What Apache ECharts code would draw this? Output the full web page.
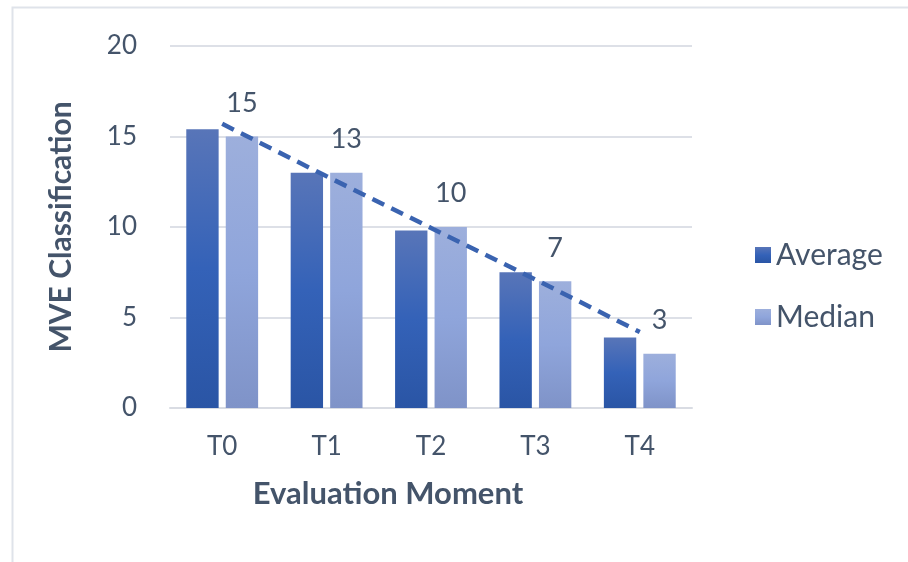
<!DOCTYPE html>
<html>
<head>
<meta charset="utf-8">
<script src="https://cdn.jsdelivr.net/npm/echarts@6/dist/echarts.min.js"></script>
<style>html,body{margin:0;padding:0;background:#fff}#c{width:908px;height:562px}</style>
</head>
<body>
<div id="c"></div>
<script>
var categories = ['T0', 'T1', 'T2', 'T3', 'T4'];
var averageValues = [15.4, 13.0, 9.8, 7.5, 3.9];
var medianValues = [15, 13, 10, 7, 3];
var trendValues = [15.7, 12.8, 9.95, 7.1, 4.2];
var yTicks = { min: 0, max: 20, interval: 5 };

var textColor = '#44546A';
var font = 'Lato';
var chart = echarts.init(document.getElementById('c'));
chart.setOption({
  animation: false,
  textStyle: { fontFamily: font },
  graphic: [{
    type: 'rect', left: 10, top: 5,
    shape: { width: 1000, height: 700 },
    style: { fill: 'none', stroke: '#dfe3ea', lineWidth: 2 },
    silent: true
  }],
  grid: { left: 170, right: 216, top: 46, bottom: 154 },
  legend: {
    orient: 'vertical', left: 750, top: 235,
    data: ['Average', 'Median'],
    itemWidth: 16, itemHeight: 16, itemGap: 32,
    icon: 'rect',
    textStyle: { fontSize: 30, color: textColor, fontFamily: font }
  },
  xAxis: {
    type: 'category', data: categories,
    name: 'Evaluation Moment', nameLocation: 'middle', nameGap: 70,
    nameTextStyle: { fontSize: 31, fontWeight: 'bold', color: textColor, fontFamily: font, padding: [0, 86, 0, 0] },
    axisLine: { lineStyle: { color: '#d9dce3', width: 2 } },
    axisTick: { show: false },
    axisLabel: { fontSize: 26, color: textColor, margin: 26, fontFamily: font }
  },
  yAxis: {
    type: 'value', min: yTicks.min, max: yTicks.max, interval: yTicks.interval,
    name: 'MVE Classification', nameLocation: 'middle', nameGap: 94,
    nameTextStyle: { fontSize: 30, fontWeight: 'bold', color: textColor, fontFamily: font },
    axisLine: { show: false }, axisTick: { show: false },
    splitLine: { lineStyle: { color: '#dde0e7', width: 2 } },
    axisLabel: { fontSize: 26, color: textColor, margin: 33, fontFamily: font }
  },
  series: [
    {
      name: 'Average', type: 'bar', data: averageValues,
      barWidth: '31%', barGap: '22%',
      itemStyle: {
        color: new echarts.graphic.LinearGradient(0, 0, 0, 1, [
          { offset: 0, color: '#5875B8' }, { offset: 0.5, color: '#3462B8' }, { offset: 1, color: '#2A55A5' }
        ])
      }
    },
    {
      name: 'Median', type: 'bar', data: medianValues,
      barWidth: '31%',
      itemStyle: {
        color: new echarts.graphic.LinearGradient(0, 0, 0, 1, [
          { offset: 0, color: '#9DAFDC' }, { offset: 0.5, color: '#8FA5DB' }, { offset: 1, color: '#7F93C8' }
        ])
      },
      label: { show: true, position: 'top', distance: 20, fontSize: 27, color: textColor, fontFamily: font }
    },
    {
      name: 'Trend', type: 'line', data: trendValues,
      symbol: 'none', z: 5,
      lineStyle: { color: '#3A63B0', width: 4.5, type: [13, 8] }
    }
  ]
});
</script>
</body>
</html>
